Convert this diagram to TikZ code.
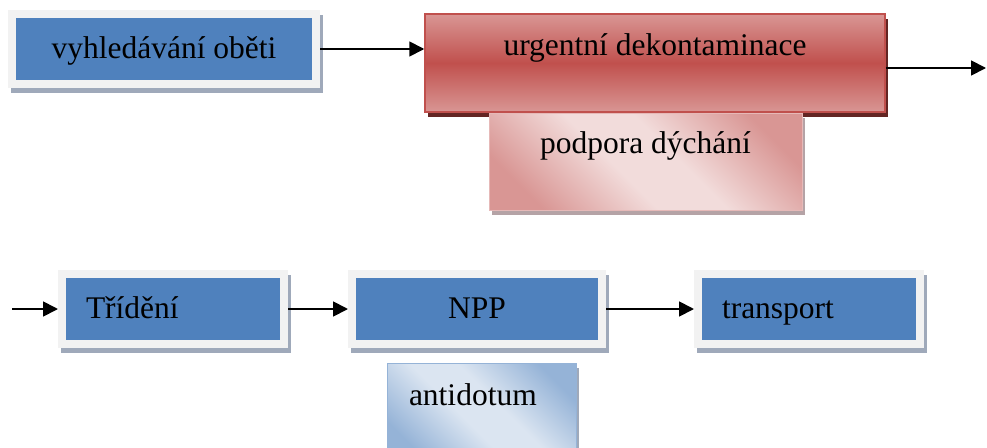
\documentclass[tikz,border=0pt]{standalone}
\usepackage{fontspec}
\setmainfont{Liberation Serif}
\usepackage{tikz}
\usetikzlibrary{arrows.meta,shadows}
\definecolor{boxblue}{HTML}{4F81BD}
\definecolor{framegray}{HTML}{F2F2F2}
\definecolor{shadowgray}{HTML}{9FA9BA}
\definecolor{redlight}{HTML}{D99694}
\definecolor{redmid}{HTML}{C0504D}
\definecolor{redshadow}{HTML}{632523}
\definecolor{pinklight}{HTML}{F2DCDB}
\definecolor{pinkdark}{HTML}{D99694}
\definecolor{pinkborder}{HTML}{E6B9B8}
\definecolor{pinkshadow}{HTML}{B5A3A6}
\definecolor{skylight}{HTML}{DBE5F1}
\definecolor{skydark}{HTML}{95B3D7}
\pgfdeclareverticalshading{pinkband}{100bp}{color(0bp)=(pinkdark); color(24bp)=(pinkdark); color(44bp)=(pinklight); color(56bp)=(pinklight); color(76bp)=(pinkdark); color(100bp)=(pinkdark)}
\pgfdeclareverticalshading{skyband}{100bp}{color(0bp)=(skydark); color(24bp)=(skydark); color(44bp)=(skylight); color(56bp)=(skylight); color(76bp)=(skydark); color(100bp)=(skydark)}

\begin{document}
\begin{tikzpicture}[x=1pt,y=-1pt,font=\fontsize{31.5}{38}\selectfont,
	bluebox/.style={fill=boxblue, draw=framegray, line width=8pt, inner ysep=0pt, text height=44pt, text depth=26pt,
		drop shadow={shadow xshift=3pt, shadow yshift=-5pt, opacity=1, draw=shadowgray, line width=8pt, fill=shadowgray}},
	leftbox/.style={bluebox, text width=174pt, inner xsep=24pt, align=left},
	redbox/.style={top color=redlight, bottom color=redlight, middle color=redmid, draw=redmid, line width=1.5pt, inner ysep=0pt,
		drop shadow={shadow xshift=3pt, shadow yshift=-5pt, opacity=1, fill=redshadow}},
	pinkbox/.style={shading=pinkband, shading angle=-45, draw=pinkborder, line width=1pt, inner ysep=0pt,
		drop shadow={shadow xshift=3pt, shadow yshift=-5pt, opacity=1, fill=pinkshadow}},
	skybox/.style={shading=skyband, shading angle=-45, draw=skydark, line width=1pt, inner ysep=0pt,
		drop shadow={shadow xshift=3pt, shadow yshift=-5pt, opacity=1, fill=shadowgray}},
	arr/.style={-{Triangle[length=15pt,width=15pt]}, line width=1.8pt}]
	\useasboundingbox (0,0) rectangle (987,447);

	% top row
	\node[bluebox, minimum width=304pt] (vyhl) at (164,49) {vyhledávání oběti};
	\node[redbox, minimum width=460pt, text height=41pt, text depth=57pt] (decon) at (655,63) {urgentní dekontaminace};
	\node[pinkbox, minimum width=313pt, text height=40pt, text depth=57pt] (breath) at (645.5,161.5) {podpora dýchání};
	\coordinate (exit) at (986,68);

	% bottom row
	\coordinate (entry) at (12,309);
	\node[leftbox] (tride) at (173,309) {Třídění};
	\node[bluebox, minimum width=250pt] (npp) at (477,309) {NPP};
	\node[leftbox] (trans) at (809,309) {transport};
	\node[skybox, text width=145pt, inner xsep=22pt, align=left, text height=42pt, text depth=55pt] (antid) at (481.5,411.5) {antidotum};

	\draw[arr] (vyhl.east) -- (vyhl.east -| decon.west);
	\draw[arr] ([yshift=-5pt]decon.east) -- (exit);
	\draw[arr] (entry) -- (tride.west);
	\draw[arr] (tride.east) -- (npp.west);
	\draw[arr] (npp.east) -- (trans.west);
\end{tikzpicture}
\end{document}
